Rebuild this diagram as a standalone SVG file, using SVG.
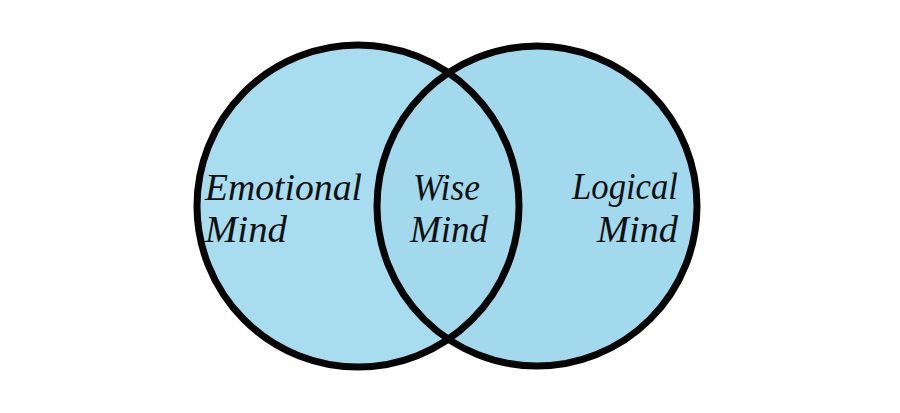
<svg xmlns="http://www.w3.org/2000/svg" width="900" height="413" viewBox="0 0 900 413">
  <style>
    .circle { stroke: #050505; stroke-width: 7; }
    .label { font-family: "Liberation Serif", "DejaVu Serif", serif; font-style: italic; font-size: 37px; fill: #111111; }
  </style>
  <rect x="0" y="0" width="900" height="413" fill="#ffffff"/>
  <g id="fills">
    <circle cx="358" cy="206" r="161" fill="#a8ddef"/>
    <circle cx="537" cy="206" r="160" fill="#a2d9ed"/>
  </g>
  <g id="emotional-mind">
    <circle cx="358" cy="206" r="161" fill="none" class="circle"/>
    <text class="label" x="205" y="200" textLength="157" lengthAdjust="spacingAndGlyphs">Emotional</text>
    <text class="label" x="205" y="242" textLength="82" lengthAdjust="spacingAndGlyphs">Mind</text>
  </g>
  <g id="logical-mind">
    <circle cx="537" cy="206" r="160" fill="none" class="circle"/>
    <text class="label" x="572" y="199" textLength="106" lengthAdjust="spacingAndGlyphs">Logical</text>
    <text class="label" x="597" y="242" textLength="81" lengthAdjust="spacingAndGlyphs">Mind</text>
  </g>
  <g id="wise-mind">
    <text class="label" x="413" y="200" textLength="67" lengthAdjust="spacingAndGlyphs">Wise</text>
    <text class="label" x="410" y="242" textLength="78" lengthAdjust="spacingAndGlyphs">Mind</text>
  </g>
</svg>
